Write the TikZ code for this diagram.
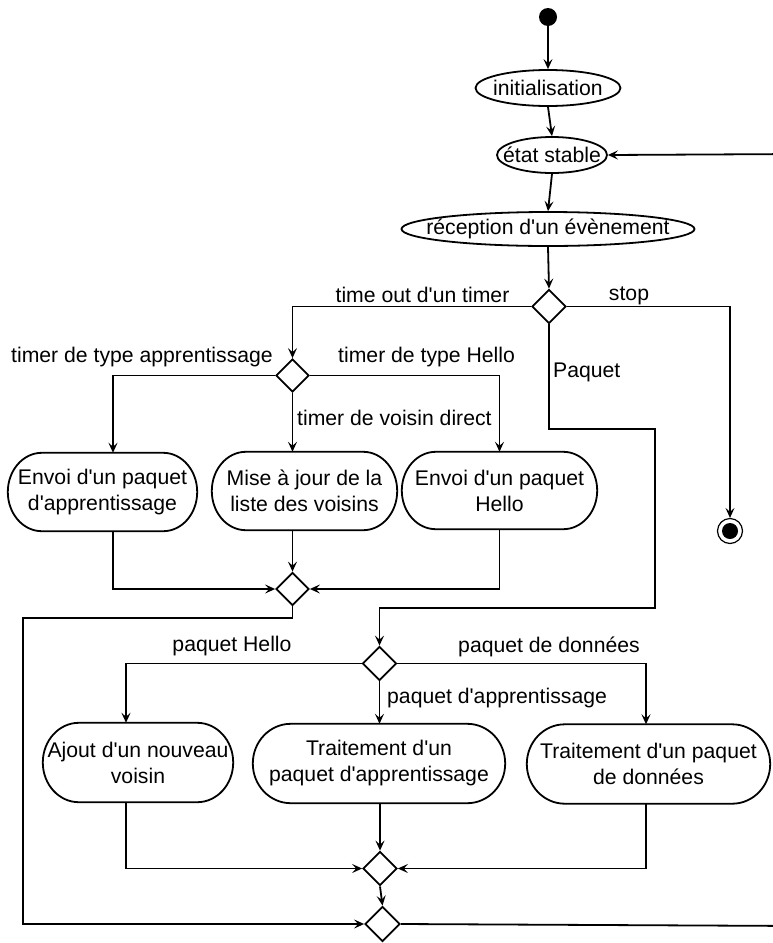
\documentclass[tikz,border=0pt]{standalone}
\usepackage{fontspec}
\setmainfont{Liberation Sans}[Ligatures=TeXOff]
\usetikzlibrary{shapes.geometric,arrows.meta,calc}
\tikzset{
 base/.style={font=\fontsize{21.2}{26}\selectfont, inner sep=0pt},
 ell/.style={base, ellipse, draw, line width=1.8pt},
 act/.style={base, align=center},
 dec/.style={diamond, draw, line width=1.8pt, inner sep=0pt, minimum width=#1, minimum height=#1},
 dec/.default=34,
 lbl/.style={base},
 con/.style={line width=1.8pt},
 arr/.style={con, -{Stealth[length=10pt,width=9pt,inset=4pt]}},
 boxline/.style={line width=1.8pt}
}
\newcommand\stadium[2]{%
 \draw[boxline] let \p1=(#1.north west), \p2=(#1.south east), \n1={(\y1-\y2)/2} in
 (\x1+#2pt,\y1) -- (\x2-#2pt,\y1) arc[start angle=90,end angle=-90,x radius=#2pt,y radius=\n1]
 -- (\x1+#2pt,\y2) arc[start angle=270,end angle=90,x radius=#2pt,y radius=\n1] -- cycle;}
\begin{document}
\begin{tikzpicture}[x=1pt,y=-1pt]
\useasboundingbox (0,0) rectangle (772,943);
% top
\node[fill, circle, minimum size=18, inner sep=0] (start) at (548,17) {};
\node[ell, minimum width=145, minimum height=36] (init) at (548,88) {};
\node[base] (initT) at (init) {initialisation};
\node[ell, minimum width=110, minimum height=36] (etat) at (552,155) {};
\node[base] (etatT) at (etat) {état stable};
\node[ell, minimum width=293, minimum height=34] (rec) at (548,229) {};
\node[base] (recT) at (rec) {réception d'un évènement};
% decisions
\node[dec=34] (d1) at (549,306.5) {};
\node[dec=33] (d2) at (292.5,375.5) {};
\node[dec=33] (d4) at (292.5,589) {};
\node[dec=34] (d3) at (379.5,663.5) {};
\node[dec=34] (d5) at (380,868.5) {};
\node[dec=35] (d6) at (382.5,924) {};
% final
\node[circle, draw, line width=1.2pt, minimum size=25, inner sep=0] (fin) at (730,531) {};
\node[circle, fill, minimum size=16, inner sep=0] (finIn) at (fin.center) {};
% activities row 1
\node[act, minimum width=189, minimum height=78] (env1) at (102.5,492) {Envoi d'un paquet\\d'apprentissage};
\node[act, minimum width=185, minimum height=78] (maj) at (304.5,491) {Mise à jour de la\\liste des voisins};
\node[act, minimum width=195, minimum height=77] (env2) at (499.5,490.5) {Envoi d'un paquet\\Hello};
\stadium{env1}{34}
\stadium{maj}{34}
\stadium{env2}{34}
% activities row 2
\node[act, minimum width=190, minimum height=79] (ajout) at (138,762.5) {Ajout d'un nouveau\\voisin};
\node[act, minimum width=252, minimum height=79] (trA) at (379,763.5) {Traitement d'un\\paquet d'apprentissage};
\node[act, minimum width=243, minimum height=79] (trD) at (648.5,764) {Traitement d'un paquet\\de données};
\stadium{ajout}{36}
\stadium{trA}{38}
\stadium{trD}{38}
% connectors
\draw[arr] (start.south) -- (init.north);
\draw[arr] (init.south) -- (etat.north);
\draw[arr] (etat.south) -- (rec.north);
\draw[arr] (rec.south) -- (d1.north);
\draw[arr] (d1.west) -| (d2.north);
\draw[arr] (d1.east) -| (fin.north);
\draw[arr] (d1.south) |- (655,429) |- (379.5,608) -- (d3.north);
\draw[arr] (d2.west) -| (113,0 |- env1.north);
\draw[arr] (d2.south) -- (d2.south |- maj.north);
\draw[arr] (d2.east) -| (env2.north);
\draw[arr] (113,0 |- env1.south) |- (d4.west);
\draw[arr] (d4.north |- maj.south) -- (d4.north);
\draw[arr] (env2.south) |- (d4.east);
\draw[arr] (d4.south) |- (23,618) |- (d6.west);
\draw[arr] (d3.west) -| (126,0 |- ajout.north);
\draw[arr] (d3.south) -- (d3.south |- trA.north);
\draw[arr] (d3.east) -| (646,0 |- trD.north);
\draw[arr] (126,0 |- ajout.south) |- (d5.west);
\draw[arr] (d5.north |- trA.south) -- (d5.north);
\draw[arr] (646,0 |- trD.south) |- (d5.east);
\draw[arr] (d5.south) -- (d6.north);
\draw[arr] (d6.east) -- (800,926) -- (800,154) -- (etat.east);
% labels
\node[lbl, anchor=base] (lTimeout) at (422.5,302) {time out d'un timer};
\node[lbl, anchor=base] (lStop) at (629,300) {stop};
\node[lbl, anchor=base east] (lApp) at (273,362) {timer de type apprentissage};
\node[lbl, anchor=base west] (lHello) at (338,362) {timer de type Hello};
\node[lbl, anchor=base west] (lVoisin) at (297,425) {timer de voisin direct};
\node[lbl, anchor=base west] (lPaquet) at (553,377) {Paquet};
\node[lbl, anchor=base] (lPH) at (232,651) {paquet Hello};
\node[lbl, anchor=base] (lPD) at (549,652) {paquet de données};
\node[lbl, anchor=base west] (lPA) at (387,703) {paquet d'apprentissage};
\end{tikzpicture}
\end{document}
